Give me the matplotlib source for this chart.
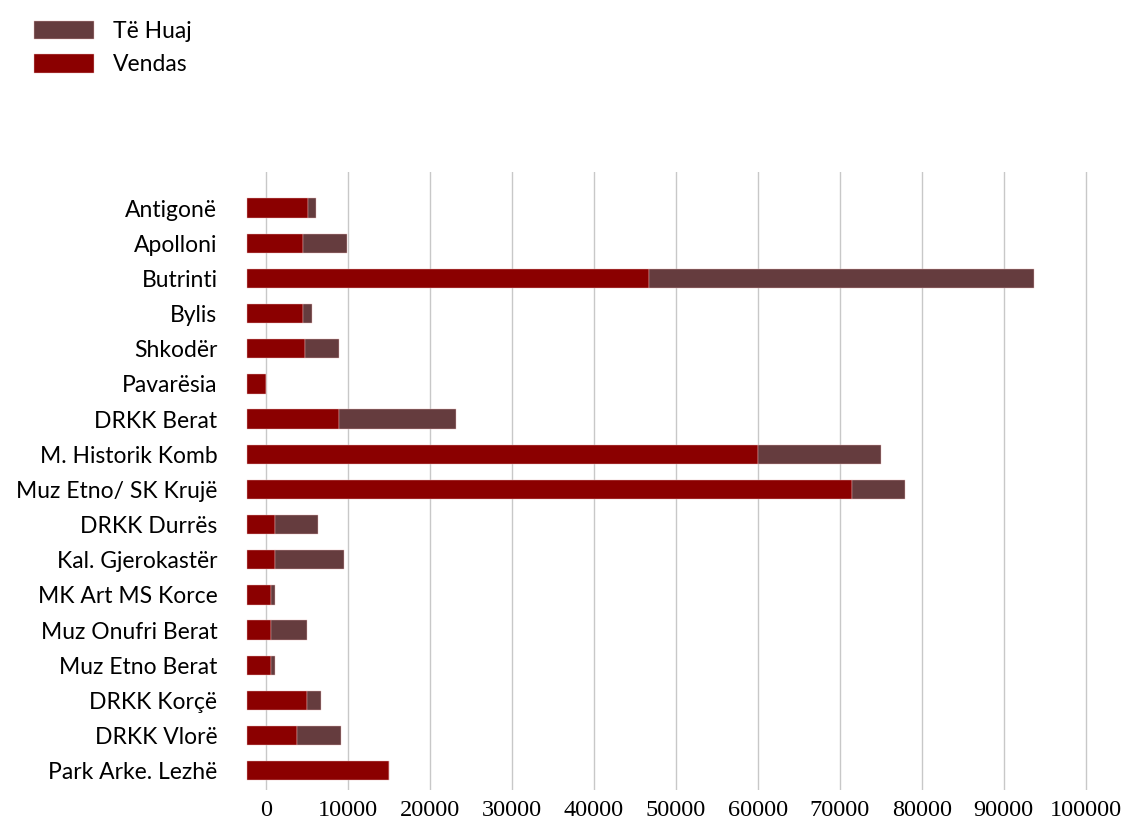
import matplotlib.pyplot as plt
import numpy as np

# Kategorien (von oben nach unten)
kategorien = ["Antigonë", "Apolloni", "Butrinti", "Bylis", "Shkodër", "Pavarësia",
              "DRKK Berat", "M. Historik Komb", "Muz Etno/ SK Krujë", "DRKK Durrës",
              "Kal. Gjerokastër", "MK Art MS Korce", "Muz Onufri Berat", "Muz Etno Berat",
              "DRKK Korçë", "DRKK Vlorë", "Park Arke. Lezhë"]

# Besucherzahlen
vendas = [5200, 4600, 46700, 4600, 4800, 100, 8900, 60000, 71500, 1200,
          1200, 600, 600, 600, 5000, 3800, 15100]
te_huaj = [1000, 5300, 47000, 1100, 4100, 0, 14300, 15100, 6500, 5200,
           8400, 600, 4500, 600, 1700, 5400, 0]

x_ticks = [0, 10000, 20000, 30000, 40000, 50000, 60000, 70000, 80000, 90000, 100000]

# Balken beginnen im Original etwas links von Null
basis = -2250

farbe_vendas = "#8b0000"
farbe_huaj = "#653c3e"

fig = plt.figure(figsize=(11.29, 8.27), dpi=100)
ax = fig.add_axes([0.2135, 0.0447, 0.7590, 0.747])

y = np.arange(len(kategorien))
vendas = np.array(vendas)
te_huaj = np.array(te_huaj)

b1 = ax.barh(y, vendas - basis, left=basis, height=0.55, color=farbe_vendas,
             edgecolor="#e8b8b8", linewidth=0.3, label="Vendas", zorder=3)
b2 = ax.barh(y, te_huaj, left=vendas, height=0.55, color=farbe_huaj,
             edgecolor="#e8b8b8", linewidth=0.3, label="Të Huaj", zorder=3)

ax.set_xlim(-3000, 101500)
ax.set_ylim(16.55, -1.02)
ax.set_xticks(x_ticks)
ax.set_xticklabels([str(t) for t in x_ticks], family="Liberation Serif", fontsize=17.5)
ax.set_yticks(y)
ax.set_yticklabels(kategorien, family="Lato", fontsize=16.5)
ax.tick_params(axis="both", length=0)
ax.tick_params(axis="y", pad=17)
ax.tick_params(axis="x", pad=7)

ax.grid(axis="x", color="#c8c8c8", linewidth=1.0, zorder=0)
ax.set_axisbelow(True)
for s in ax.spines.values():
    s.set_visible(False)

fig.legend(handles=[b2, b1], labels=["Të Huaj", "Vendas"], loc="upper left",
           bbox_to_anchor=(0.012, 1.0), frameon=False, prop={"family": "Lato", "size": 16.5},
           handlelength=2.6, handleheight=0.85, handletextpad=0.85, labelspacing=0.55)

fig.savefig("out.png", dpi=100)
